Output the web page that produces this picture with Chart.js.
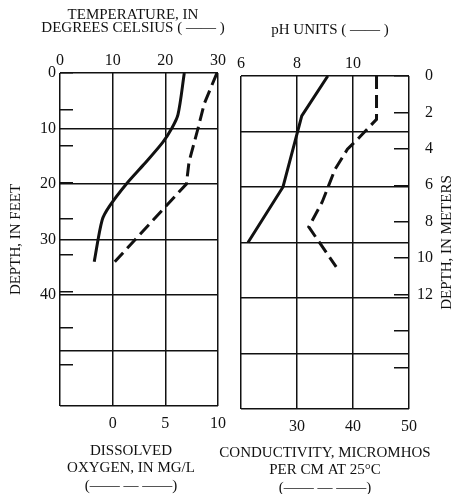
<!DOCTYPE html>
<html>
<head>
<meta charset="utf-8">
<script src="https://cdn.jsdelivr.net/npm/chart.js@4.4.1/dist/chart.umd.min.js"></script>
<style>
  html, body { margin: 0; padding: 0; background: #fff; }
  #wrap { position: relative; width: 455px; height: 494px; }
  .box { position: absolute; top: 0; height: 494px; }
</style>
</head>
<body>
<div id="wrap">
  <div class="box" style="left:0;width:236px"><canvas id="left"></canvas></div>
  <div class="box" style="left:200px;width:255px"><canvas id="right"></canvas></div>
</div>
<script>
// left panel: temperature (solid) and dissolved oxygen (dashed), depth in feet
var tempDepth = [0, 7.5, 10, 12.5, 16.5, 20, 24, 26.5, 34];
var tempC = [23.6, 22.4, 21.2, 19.5, 15.9, 12.6, 9.4, 8.0, 6.5];
var oxyDepth = [0, 5.5, 10, 16, 20, 34];
var oxyMgL = [9.9, 8.7, 8.1, 7.25, 7.0, 0.2];

// right panel: pH (solid) and conductivity (dashed)
var phDepth = [0, 7.2, 20, 30];
var phUnits = [9.1, 8.17, 7.5, 6.25];
var condDepth = [0, 7.8, 11, 13.2, 16.8, 22.7, 27.2, 34.4];
var condMicromhos = [44.2, 44.2, 41.2, 39.0, 36.8, 34.5, 32.1, 37.0];

// ticks
var feetTicks = [0, 10, 20, 30, 40, 50, 60];
var feetLabels = [0, 10, 20, 30, 40];
var meterTicks = [0, 2, 4, 6, 8, 10, 12, 14, 16];
var meterLabels = [0, 2, 4, 6, 8, 10, 12];
var tempTicks = [0, 10, 20, 30];
var oxyTicks = [0, 5, 10];
var phTicks = [6, 8, 10, 12];
var phLabels = [6, 8, 10];
var condTicks = [30, 40, 50];

var FT_PER_M = 3.28084;
var serif = "'Liberation Serif', 'Times New Roman', serif";
var ink = '#111';

function pts(xs, ys) {
  return xs.map(function (v, i) { return { x: v, y: ys[i] }; });
}
function fixSize(size) {
  return function (s) { if (s.isHorizontal()) s.height = size; else s.width = size; };
}
function setTicks(list) {
  return function (s) { s.ticks = list.map(function (v) { return { value: v }; }); };
}
function only(list) {
  return function (v) { return list.indexOf(v) >= 0 ? String(v) : ''; };
}
function tickFont() { return { family: serif, size: 16, lineHeight: 1 }; }

function line(data, xId, yId, dashed, tension) {
  return {
    data: data, xAxisID: xId, yAxisID: yId,
    borderColor: ink, borderWidth: 3, pointRadius: 0, fill: false,
    borderDash: dashed ? [13, 6] : [], tension: tension || 0
  };
}

// axis titles drawn without the width squeeze Chart.js applies to scale titles
var panelTitles = {
  id: 'panelTitles',
  afterDraw: function (chart, args, opts) {
    var ctx = chart.ctx, a = chart.chartArea, cx = (a.left + a.right) / 2;
    ctx.save();
    ctx.font = '15px ' + serif;
    ctx.fillStyle = ink;
    ctx.textAlign = 'center';
    ctx.textBaseline = 'middle';
    (opts.blocks || []).forEach(function (b) {
      b.lines.forEach(function (t, i) { ctx.fillText(t, cx + b.dx, b.y + i * b.lh); });
    });
    if (opts.side) {
      ctx.translate(opts.side.x, (a.top + a.bottom) / 2);
      ctx.rotate(-Math.PI / 2);
      ctx.fillText(opts.side.text, 0, 0);
    }
    ctx.restore();
  }
};

function baseOptions(titles, padding, scales) {
  return {
    responsive: true,
    maintainAspectRatio: false,
    animation: false,
    devicePixelRatio: 1,
    layout: { padding: padding },
    plugins: { legend: { display: false }, tooltip: { enabled: false }, panelTitles: titles },
    scales: scales
  };
}

new Chart(document.getElementById('left'), {
  type: 'line',
  data: {
    datasets: [
      line(pts(tempC, tempDepth), 'x', 'y', false, 0.3),
      line(pts(oxyMgL, oxyDepth), 'x2', 'y', true)
    ]
  },
  options: baseOptions({
    blocks: [
      { lines: ['TEMPERATURE, IN', 'DEGREES CELSIUS ( —— )'], y: 15, lh: 13.5, dx: -6 },
      { lines: ['DISSOLVED', 'OXYGEN, IN MG/L', '(—— — ——)'], y: 451, lh: 17.5, dx: -8 }
    ]
  }, { left: 0, right: 9, top: 0, bottom: 0 }, {
    x: {
      type: 'linear', position: 'top', min: 0, max: 30,
      afterBuildTicks: setTicks(tempTicks), afterFit: fixSize(73),
      grid: { color: ink, lineWidth: 1.5, drawTicks: false },
      border: { display: false },
      ticks: { font: tickFont(), color: ink, padding: 4, maxRotation: 0, autoSkip: false }
    },
    x2: {
      type: 'linear', position: 'bottom', min: -5, max: 10,
      afterBuildTicks: setTicks(oxyTicks), afterFit: fixSize(88),
      grid: { drawOnChartArea: false, drawTicks: false },
      border: { display: false },
      ticks: { font: tickFont(), color: ink, padding: 10, maxRotation: 0, autoSkip: false }
    },
    y: {
      type: 'linear', position: 'left', reverse: true, min: 0, max: 60, weight: 1,
      afterBuildTicks: setTicks(feetTicks), afterFit: fixSize(60),
      grid: { color: ink, lineWidth: 1.5, drawTicks: false },
      border: { display: false },
      ticks: { font: tickFont(), color: ink, padding: 4, autoSkip: false, callback: only(feetLabels) },
      title: { display: true, text: 'DEPTH, IN FEET', font: { family: serif, size: 15, lineHeight: 1 },
        color: ink, padding: { top: 9, bottom: 0 } }
    },
    ym: {
      type: 'linear', position: 'left', reverse: true, min: 0, max: 60 / FT_PER_M, weight: 0,
      afterBuildTicks: setTicks(meterTicks), afterFit: fixSize(0),
      grid: { drawOnChartArea: false, drawTicks: true, tickLength: -13, color: ink, lineWidth: 1.5 },
      border: { display: false },
      ticks: { display: false }
    }
  }),
  plugins: [panelTitles]
});

new Chart(document.getElementById('right'), {
  type: 'line',
  data: {
    datasets: [
      line(pts(phUnits, phDepth), 'x', 'y', false),
      line(pts(condMicromhos, condDepth), 'x2', 'y', true)
    ]
  },
  options: baseOptions({
    blocks: [
      { lines: ['pH UNITS ( —— )'], y: 30, lh: 13.5, dx: 5 },
      { lines: ['CONDUCTIVITY, MICROMHOS', 'PER CM AT 25°C', '(—— — ——)'], y: 453, lh: 17.5, dx: 0 }
    ],
    side: { text: 'DEPTH, IN METERS', x: 247 }
  }, { left: 41, right: 22, top: 0, bottom: 0 }, {
    x: {
      type: 'linear', position: 'top', min: 6, max: 12,
      afterBuildTicks: setTicks(phTicks), afterFit: fixSize(76),
      grid: { color: ink, lineWidth: 1.5, drawTicks: false },
      border: { display: false },
      ticks: { font: tickFont(), color: ink, padding: 4, maxRotation: 0, autoSkip: false, callback: only(phLabels) }
    },
    x2: {
      type: 'linear', position: 'bottom', min: 20, max: 50,
      afterBuildTicks: setTicks(condTicks), afterFit: fixSize(85),
      grid: { drawOnChartArea: false, drawTicks: false },
      border: { display: false },
      ticks: { font: tickFont(), color: ink, padding: 10, maxRotation: 0, autoSkip: false }
    },
    y: {
      type: 'linear', position: 'left', reverse: true, min: 0, max: 60,
      afterBuildTicks: setTicks(feetTicks), afterFit: fixSize(0),
      grid: { color: ink, lineWidth: 1.5, drawTicks: false },
      border: { display: false },
      ticks: { display: false }
    },
    ym: {
      type: 'linear', position: 'right', reverse: true, min: 0, max: 60 / FT_PER_M,
      afterBuildTicks: setTicks(meterTicks), afterFit: fixSize(24),
      grid: { drawOnChartArea: false, drawTicks: true, tickLength: -15, color: ink, lineWidth: 1.5 },
      border: { display: false },
      ticks: { font: tickFont(), color: ink, padding: 16, crossAlign: 'far', autoSkip: false, callback: only(meterLabels) }
    }
  }),
  plugins: [panelTitles]
});
</script>
</body>
</html>
